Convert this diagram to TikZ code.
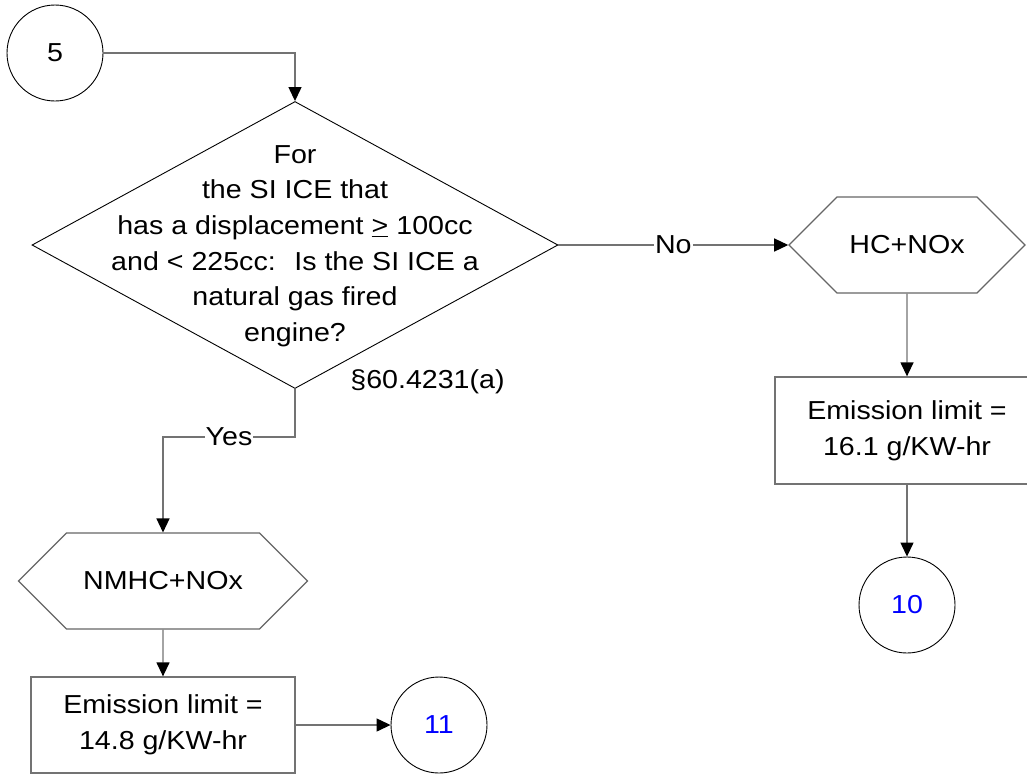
\documentclass[tikz,border=0pt]{standalone}
\usepackage{fontspec}
\setmainfont{Liberation Sans}[FakeStretch=1.1]
\usetikzlibrary{shapes.geometric,shapes.symbols,arrows.meta}

\begin{document}
\begin{tikzpicture}[
      x=1pt,y=-1pt,
      font=\fontsize{26}{35.6}\selectfont,
      conn/.style    ={draw=black!55,line width=1.3pt,-{Triangle[length=14pt,width=13pt,color=black]}},
      offpage/.style ={circle,draw,line width=0.9pt,minimum size=96pt,inner sep=0pt},
      decision/.style={diamond,draw,line width=0.9pt,minimum width=526pt,minimum height=287pt,inner sep=0pt},
      pollut/.style  ={signal,signal to=west and east,signal pointer angle=90,draw=black!60,line width=1.1pt,minimum height=96pt,inner sep=0pt},
      limit/.style   ={draw=black!55,line width=1.3pt,minimum width=264pt,align=center},
      lbl/.style     ={fill=white,inner sep=1pt}]
      \useasboundingbox (0,0) rectangle (1027,774);

      % Entry and question
      \node[offpage] (c5) at (55,53) {5};
      \node[decision] (q) at (295,245) {};
      \node[align=center] (qtext) at (295,246) {For\\the SI ICE that\\has a displacement \underline{>} 100cc\\and < 225cc:~ Is the SI ICE a\\natural gas fired\\engine?};
      \node (ref) at (427.5,382) {§60.4231(a)};

      % No branch
      \node[pollut,minimum width=236pt] (hc) at (907,245) {HC+NOx};
      \node[limit,minimum height=107pt] (lim1) at (907,430.5) {Emission limit =\\16.1 g/KW-hr};
      \node[offpage,text=blue] (c10) at (907,605) {10};

      % Yes branch
      \node[pollut,minimum width=289pt] (nm) at (163,581) {NMHC+NOx};
      \node[limit,minimum height=96pt] (lim2) at (163,725) {Emission limit =\\14.8 g/KW-hr};
      \node[offpage,text=blue] (c11) at (439,725) {11};

      % Connectors
      \coordinate (ybend) at (295,437);
      \draw[conn] (c5) -| (q.north);
      \draw[conn] (q.east) -- node[lbl]{No} (hc.west);
      \draw[conn] (q.south) -- (ybend) -| node[lbl,pos=0.25]{Yes} (nm.north);
      \draw[conn] (hc) -- (lim1);
      \draw[conn] (lim1) -- (c10);
      \draw[conn] (nm) -- (lim2);
      \draw[conn] (lim2) -- (c11);
\end{tikzpicture}
\end{document}
